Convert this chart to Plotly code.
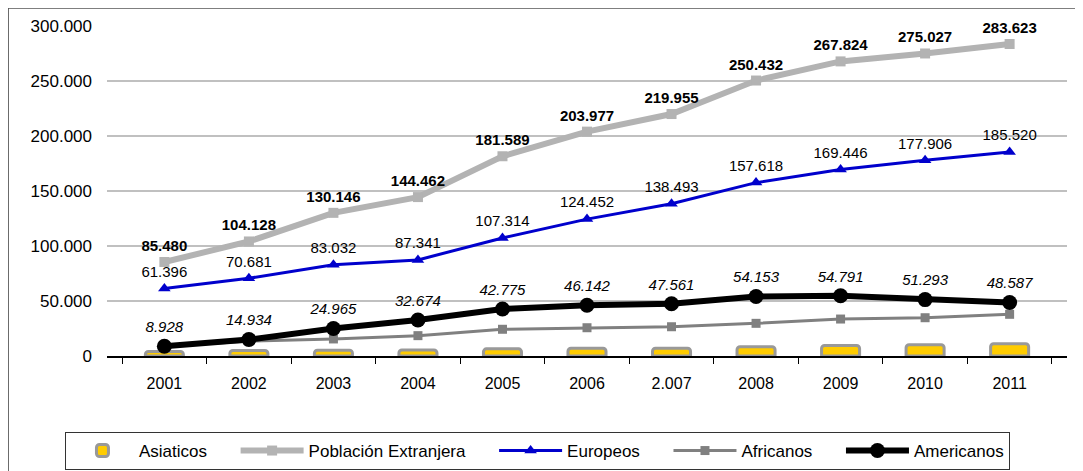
import plotly.graph_objects as go

years = ["2001", "2002", "2003", "2004", "2005", "2006", "2.007", "2008", "2009", "2010", "2011"]
poblacion = [85480, 104128, 130146, 144462, 181589, 203977, 219955, 250432, 267824, 275027, 283623]
europeos = [61396, 70681, 83032, 87341, 107314, 124452, 138493, 157618, 169446, 177906, 185520]
americanos = [8928, 14934, 24965, 32674, 42775, 46142, 47561, 54153, 54791, 51293, 48587]
africanos = [9000, 13500, 15500, 18500, 24300, 25700, 26600, 29700, 33600, 34800, 37900]
asiaticos = [4100, 5000, 5300, 5500, 6500, 7100, 7100, 8400, 9500, 10200, 11100]

FONT = "Liberation Sans, Arial, sans-serif"
PAD = "\u00a0" * 5  # extra room between legend entries

fig = go.Figure()

fig.add_trace(go.Bar(
    x=years, y=asiaticos, name="Asiaticos" + PAD,
    marker=dict(color="#ffcc00", line=dict(color="#999999", width=3), cornerradius=3),
    width=0.45,
))

fig.add_trace(go.Scatter(
    x=years, y=poblacion, name="Población Extranjera" + PAD, mode="lines+markers+text",
    line=dict(color="#b3b3b3", width=6),
    marker=dict(symbol="square", size=10, color="#b3b3b3"),
    texttemplate="%{y:,}", textposition="top center", cliponaxis=False,
    textfont=dict(family=FONT, size=15, color="black", weight="bold"),
))

fig.add_trace(go.Scatter(
    x=years, y=europeos, name="Europeos" + PAD, mode="lines+markers+text",
    line=dict(color="#0000cc", width=3),
    marker=dict(symbol="triangle-up", size=11, color="#0000cc"),
    texttemplate="%{y:,}", textposition="top center", cliponaxis=False,
    textfont=dict(family=FONT, size=15, color="black"),
))

fig.add_trace(go.Scatter(
    x=years, y=africanos, name="Africanos" + PAD, mode="lines+markers",
    line=dict(color="#808080", width=3),
    marker=dict(symbol="square", size=9, color="#808080"),
))

fig.add_trace(go.Scatter(
    x=years, y=americanos, name="Americanos", mode="lines+markers+text",
    line=dict(color="black", width=6),
    marker=dict(symbol="circle", size=15, color="black"),
    texttemplate="%{y:,}", textposition="top center", cliponaxis=False,
    textfont=dict(family=FONT, size=15, color="black", style="italic"),
))

fig.update_layout(
    width=1083, height=471,
    margin=dict(l=99, r=24, t=18, b=123),
    paper_bgcolor="white", plot_bgcolor="white",
    separators=",.",
    font=dict(family=FONT, size=16, color="black"),
    showlegend=True,
    legend=dict(
        orientation="h", xref="container", yref="container",
        x=0.0526, y=0.0998, xanchor="left", yanchor="top",
        bordercolor="#333333", borderwidth=1, itemwidth=63,
        font=dict(family=FONT, size=17, color="black"),
        traceorder="normal",
    ),
    bargap=0.55,
)

fig.update_xaxes(
    type="category", showline=True, linecolor="black", linewidth=1.5,
    ticks="outside", tickson="boundaries", ticklen=6, tickcolor="black",
    showgrid=False, tickfont=dict(size=16), automargin=False,
    ticklabelstandoff=12,
)
fig.update_yaxes(
    range=[0, 300000], dtick=50000, tickformat=",",
    showgrid=True, gridcolor="#c0c0c0", gridwidth=2,
    zeroline=False, showline=False, tickfont=dict(size=17),
    ticklabelstandoff=14, automargin=False,
)

# frame round the whole chart (right and bottom edges fall outside the picture)
fig.add_shape(type="rect", xref="paper", yref="paper",
              x0=-0.103, x1=1.03, y0=-0.45, y1=1.0545,
              line=dict(color="#555555", width=1.5), layer="below")

fig.write_html("out.html")
